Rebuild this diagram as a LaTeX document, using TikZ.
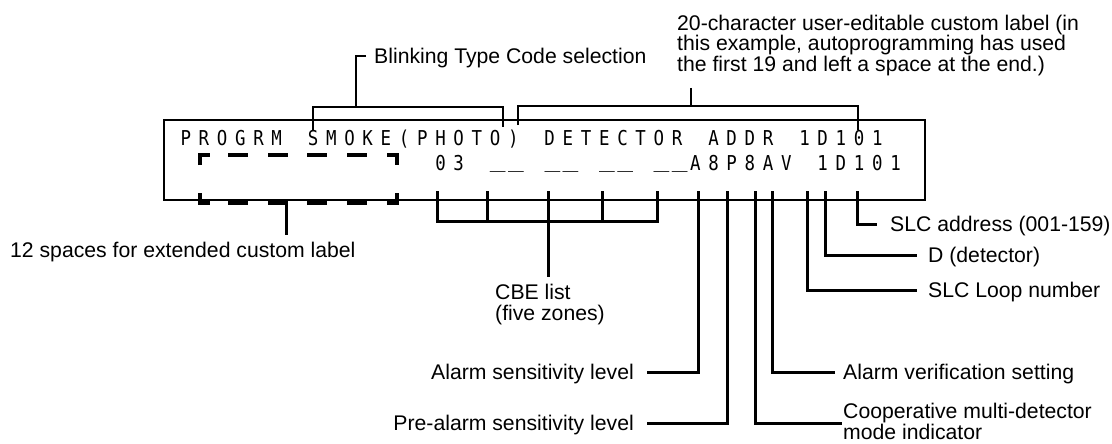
\documentclass[tikz,border=0pt]{standalone}
\usepackage{fontspec}
\usepackage{graphicx}
\setmainfont{Liberation Sans}
\newfontfamily\lcdfont{DejaVu Sans Mono}[FakeStretch=0.85]
\newcommand\lcdcell[1]{\makebox[18.2pt][l]{#1}}
\def\lcdrun#1{\ifx#1\relax\else\lcdcell{#1}\expandafter\lcdrun\fi}
\newcommand\lcdus{\raisebox{3pt}{\scalebox{1.5}[1]{\_}}}
\tikzset{
  lbl/.style={font=\fontsize{21.2}{21}\selectfont, inner sep=0pt, text height=15.2pt, text depth=0pt},
  mlbl/.style={font=\fontsize{21.2}{21}\selectfont, inner sep=0pt, align=left},
  ld/.style={line width=3pt},
  brk/.style={line width=2pt},
  dsh/.style={line width=3.5pt},
  lcd/.style={font=\lcdfont\fontsize{20.5}{20}\selectfont, inner sep=0pt},
}
\begin{document}
\begin{tikzpicture}[x=1pt,y=-1pt]
\useasboundingbox (0,0) rectangle (1112,444);
% display box
\node[draw, line width=2.2pt, minimum width=761pt, minimum height=80pt, inner sep=0pt, anchor=north west] (box) at (163,119) {};
\node[lcd, anchor=base west] (row1) at (180.3,145.5) {\lcdrun PROGRM~SMOKE(PHOTO)~DETECTOR~ADDR~1D101\relax};
\node[lcd, anchor=base west] (row2) at (435.1,170.5) {\lcdrun 03~\lcdus\lcdus~\lcdus\lcdus~\lcdus\lcdus~\lcdus\lcdus A8P8AV~1D101\relax};
% 12-space dashed bracket
\draw[dsh] (200,165) -- (200,155) -- (210,155);
\draw[dsh] (387,155) -- (397,155) -- (397,165);
\draw[dsh] (200,193) -- (200,203) -- (210,203);
\draw[dsh] (387,203) -- (397,203) -- (397,193);
\foreach \a in {228,268,307,347} {
  \draw[dsh] (\a,155) -- ++(20,0);
  \draw[dsh] (\a,203) -- ++(20,0);
}
% top labels
\node[lbl, anchor=west] (blink) at (374,56) {Blinking Type Code selection};
\coordinate (bk) at (356,107);
\draw[brk] ([xshift=-8pt]blink.west) -| (bk);
\coordinate (bS) at (313,130);
\coordinate (bP) at (503,127);
\draw[brk] (bS) -- (bS |- bk) -- (bP |- bk) -- (bP);
\node[mlbl, anchor=north west, font=\fontsize{21.2}{20.5}\selectfont] (cust) at (677,14.5)
  {20-character user-editable custom label (in\\this example, autoprogramming has used\\the first 19 and left a space at the end.)};
\coordinate (cu0) at (691,88);
\coordinate (cu) at (691,106);
\draw[brk] (cu0) -- (cu);
\coordinate (cL) at (518,125);
\coordinate (cR) at (858,130);
\draw[brk] (cL) -- (cL |- cu) -- (cR |- cu) -- (cR);
% 12 spaces label
\node[lbl, anchor=west] (sp) at (10,250) {12 spaces for extended custom label};
\coordinate (sp0) at (286,203);
\coordinate (sp1) at (286,235);
\draw[ld] (sp0) -- (sp1);
% ticks
\foreach \n/\xx in {1/437,2/487,3/548,4/602,5/657,6/698,7/727,8/755,9/772,10/807,11/825,12/857}
  \coordinate (t\n) at (\xx,191);
% CBE
\node[mlbl, anchor=north west] (cbe) at (495,284) {CBE list\\(five zones)};
\coordinate (cbR) at (657,221);
\coordinate (cb3) at (548,277);
\draw[ld] (t1) |- (cbR) -- (t5);
\draw[ld] (t2) -- (t2 |- cbR);
\draw[ld] (t4) -- (t4 |- cbR);
\draw[ld] (t3) -- (cb3);
% right labels
\node[lbl, anchor=west] (addr) at (890,224) {SLC address (001-159)};
\node[lbl, anchor=west] (det) at (928,255) {D (detector)};
\node[lbl, anchor=west] (loop) at (928,290) {SLC Loop number};
\node[lbl, anchor=east] (as) at (634,372) {Alarm sensitivity level};
\node[lbl, anchor=east] (pa) at (634,423) {Pre-alarm sensitivity level};
\node[lbl, anchor=west] (av) at (843,372) {Alarm verification setting};
\node[mlbl, anchor=north west] (coop) at (843,403) {Cooperative multi-detector\\mode indicator};
\draw[ld] (t12) |- ([xshift=-13pt]addr.west);
\draw[ld] (t11) |- ([xshift=-11pt]det.west);
\draw[ld] (t10) |- ([xshift=-11pt]loop.west);
\draw[ld] (t9) |- ([xshift=-8pt]av.west);
\draw[ld] (t8) |- ([xshift=-1pt,yshift=-1.7pt]coop.west);
\draw[ld] (t6) |- ([xshift=13pt]as.east);
\draw[ld] (t7) |- ([xshift=13pt]pa.east);
\end{tikzpicture}
\end{document}
